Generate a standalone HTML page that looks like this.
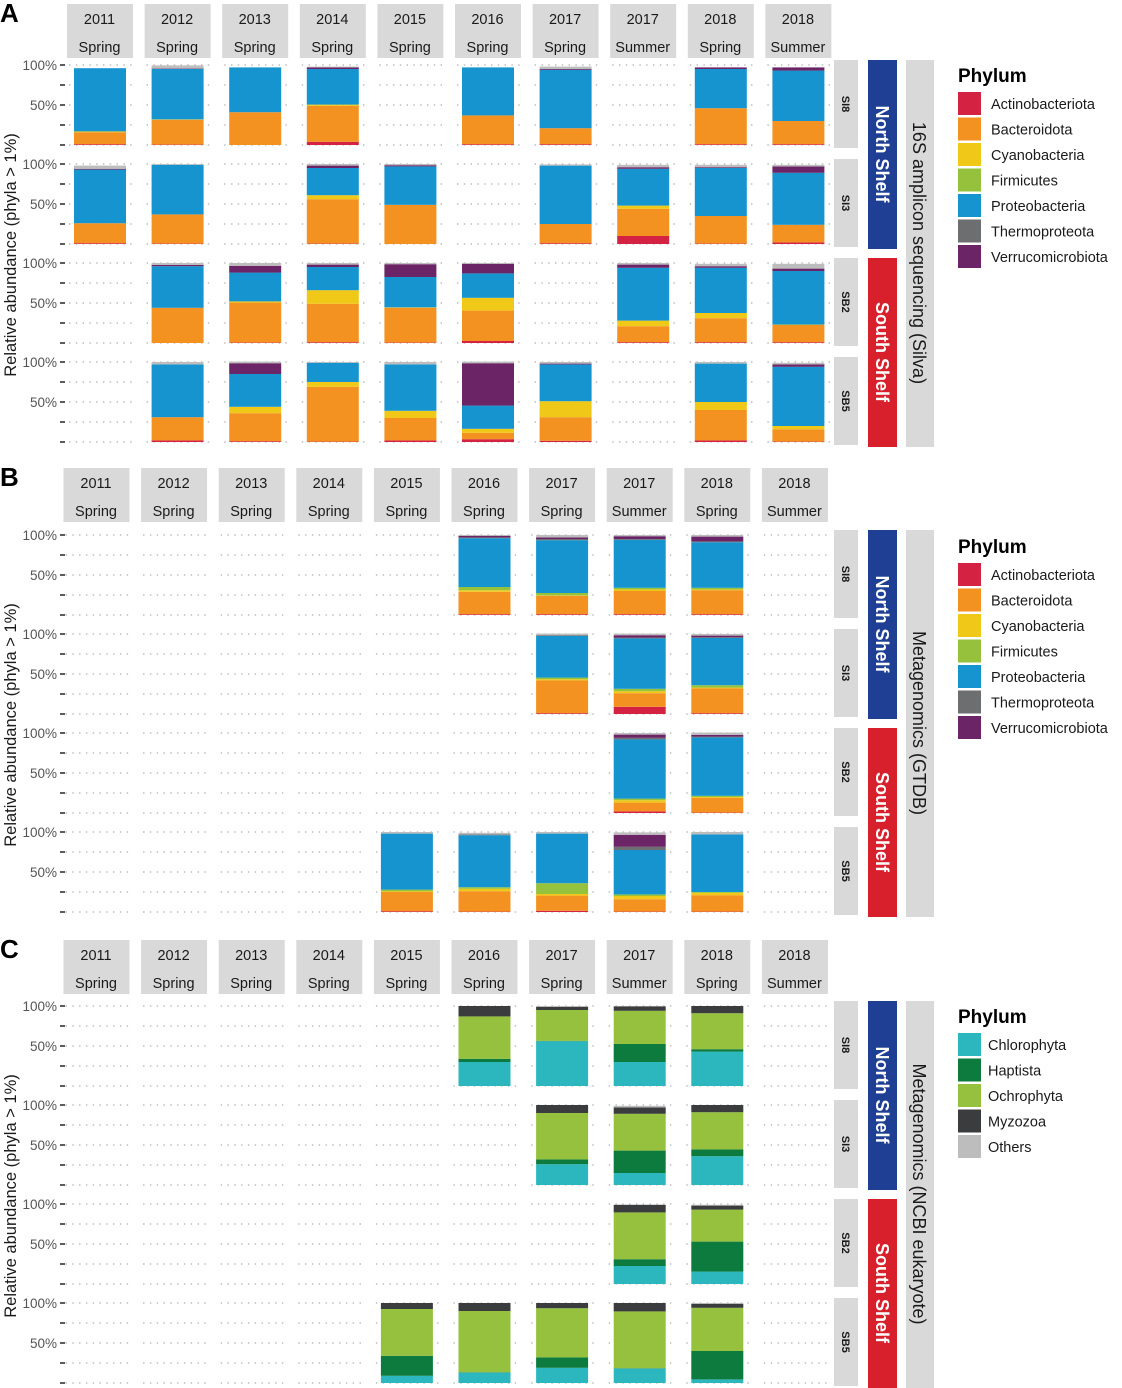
<!DOCTYPE html>
<html><head><meta charset="utf-8"><style>
html,body{margin:0;padding:0;background:#fff;}
svg{display:block;font-family:"Liberation Sans",sans-serif;}
</style></head><body>
<svg id="fig" width="1122" height="1388" viewBox="0 0 1122 1388" xmlns="http://www.w3.org/2000/svg"></svg>
<script>
const N = null;
const years = ["2011","2012","2013","2014","2015","2016","2017","2017","2018","2018"];
const seasons = ["Spring","Spring","Spring","Spring","Spring","Spring","Spring","Summer","Spring","Summer"];
const sites = ["SI8","SI3","SB2","SB5"];
const yTicks = [0,25,50,75,100];
const yTickLabels = ["","","50%","","100%"];
const bactPhyla = ["Actinobacteriota","Bacteroidota","Cyanobacteria","Firmicutes","Proteobacteria","Thermoproteota","Verrucomicrobiota"];
const bactColors = ["#d42342","#f39221","#f0c817","#95c13d","#1594cf","#6d6e70","#6b2465","#bdbdbd"];
const euPhyla = ["Chlorophyta","Haptista","Ochrophyta","Myzozoa","Others"];
const euColors = ["#2bb7bd","#0d7a3e","#95c13e","#3b3c3e","#bdbdbd"];

// Panel A (16S) — rows SI8, SI3, SB2, SB5; columns 10 samples
const A_act = [[1,.5,0,4,N,1,1,N,1,1],[1,.5,N,.5,0,N,1,10,.5,2],[N,0,.5,1,.5,2.5,N,1,1,1],[N,2,1,.5,2,3.5,1.5,N,2,.5]];
const A_bact = [[15,31,41,45,N,36,20,N,45,29],[25,36.5,N,55.5,49,N,24,34,34.5,22],[N,44,50,48,43.5,38,N,20,30,21.5],[N,29,35,68.5,28,8,29.5,N,38,15.5]];
const A_cyano = [[1,.5,0,1.5,N,0,0,N,0,0],[0,0,N,5,0,N,0,4,0,0],[N,0,1.5,17,.5,16,N,7,6.5,.5],[N,0,8,6,9,5,20,N,10,4]];
const A_firm = [[0,0,0,0,N,0,0,N,0,0],[0,0,N,0,0,N,0,0,0,0],[N,0,0,0,0,0,N,0,0,0],[N,0,0,0,0,0,0,N,0,0]];
const A_proteo = [[79,63,56,44.5,N,60,73,N,49,63],[67,62,N,34,48,N,73,46,60,65],[N,52,36,29,38,30.5,N,66,56.5,67],[N,66,41,24,58,29,46,N,48,74]];
const A_thermo = [[0,0,0,0,N,0,0,N,0,0],[0,0,N,0,0,N,0,0,0,0],[N,0,0,0,0,0,N,0,0,0],[N,0,0,0,0,0,0,N,0,0]];
const A_verru = [[0,.5,0,2,N,0,1,N,2,4],[1,0,N,3,1.5,N,0,2,1,8],[N,1.5,8.5,3,16,12,N,4,2,3],[N,0,13.5,0,0,53,1,N,0,3]];
const A_other = [[0,4,0,1,N,0,3,N,0,0],[4,1,N,2,1.5,N,1.5,3,3,2],[N,2.5,3.5,2,1.5,1,N,2,3,6],[N,3,2,1,3,2,2,N,2,2]];

// Panel B (GTDB)
const B_act = [[N,N,N,N,N,1,1,1,1,N],[N,N,N,N,N,N,1,9,1,N],[N,N,N,N,N,N,N,2,.5,N],[N,N,N,N,1,.5,1.5,.5,.5,N]];
const B_bact = [[N,N,N,N,N,28,23,29,30,N],[N,N,N,N,N,N,41,17,31,N],[N,N,N,N,N,N,N,11,18.5,N],[N,N,N,N,24,25.5,19,15.5,20.5,N]];
const B_cyano = [[N,N,N,N,N,2,.5,2,1,N],[N,N,N,N,N,N,1.5,2.5,1,N],[N,N,N,N,N,N,N,3,1,N],[N,N,N,N,1,3,2,4,3,N]];
const B_firm = [[N,N,N,N,N,4,3,2,2,N],[N,N,N,N,N,N,2,3,3,N],[N,N,N,N,N,N,N,2,1.5,N],[N,N,N,N,2,2,13.5,2,1,N]];
const B_proteo = [[N,N,N,N,N,61,66,60,57,N],[N,N,N,N,N,N,52,63,59,N],[N,N,N,N,N,N,N,74,73,N],[N,N,N,N,70,65,62,55.5,72,N]];
const B_thermo = [[N,N,N,N,N,1,1.5,1,1,N],[N,N,N,N,N,N,1,1,1,N],[N,N,N,N,N,N,N,2,1,N],[N,N,N,N,0,1,0,4,0,N]];
const B_verru = [[N,N,N,N,N,2,2,3.5,6,N],[N,N,N,N,N,N,0,3,2,N],[N,N,N,N,N,N,N,4,2,N],[N,N,N,N,0,0,0,15,0,N]];
const B_other = [[N,N,N,N,N,1,3,1.5,2,N],[N,N,N,N,N,N,2,2,2,N],[N,N,N,N,N,N,N,2,3,N],[N,N,N,N,2,2,2,3,3,N]];

// Panel C (NCBI eukaryote)
const C_chlor = [[N,N,N,N,N,30,56,30,43,N],[N,N,N,N,N,N,26,15,36,N],[N,N,N,N,N,N,N,22.5,15.5,N],[N,N,N,N,9,13,19,18,4.5,N]];
const C_hapt = [[N,N,N,N,N,4,.5,22.5,3,N],[N,N,N,N,N,N,6,28,8.5,N],[N,N,N,N,N,N,N,8.5,37.5,N],[N,N,N,N,25,.5,13,.5,35.5,N]];
const C_ochro = [[N,N,N,N,N,53,38.5,41.5,45,N],[N,N,N,N,N,N,58,46,46.5,N],[N,N,N,N,N,N,N,58.5,40,N],[N,N,N,N,58.5,76.5,61.5,71,54,N]];
const C_myzo = [[N,N,N,N,N,13,4,5.5,9,N],[N,N,N,N,N,N,10,8,9,N],[N,N,N,N,N,N,N,9.5,5,N],[N,N,N,N,7.5,10,6.5,10.5,5,N]];
const C_other = [[N,N,N,N,N,0,1,.5,0,N],[N,N,N,N,N,N,0,2,0,N],[N,N,N,N,N,N,N,0,1,N],[N,N,N,N,0,0,0,0,1,N]];

const svg = document.getElementById('fig');
const NS = "http://www.w3.org/2000/svg";
function mk(tag, attrs, parent){
  const e = document.createElementNS(NS, tag);
  for (const k in attrs) e.setAttribute(k, attrs[k]);
  (parent||svg).appendChild(e);
  return e;
}
function txt(str, attrs, parent){ const t = mk('text', attrs, parent); t.textContent = str; return t; }

const COLW = 65, PITCH = 77.6, ROWP = 99, SCALE = 0.8;

function drawPanel(cfg){
  const g = mk('g', {});
  
  
  const L = txt(cfg.letter, {x:0, y:cfg.hdrY+18, 'font-size':26, 'font-weight':'bold', fill:'#000'}, g);
  
  
  const xCol = i => cfg.left + i*PITCH;
  for (let i=0;i<10;i++){
    const hg = mk('g', {}, g);
    
    
    mk('rect', {x:xCol(i), y:cfg.hdrY, width:COLW+1, height:54, fill:'#d9d9d9'}, hg);
    txt(years[i], {x:xCol(i)+COLW/2, y:cfg.hdrY+20, 'font-size':14.5, 'text-anchor':'middle', fill:'#1a1a1a'}, hg);
    txt(seasons[i], {x:xCol(i)+COLW/2, y:cfg.hdrY+48, 'font-size':14.5, 'text-anchor':'middle', fill:'#1a1a1a'}, hg);
  }
  const yOf = (r, v) => cfg.top + r*ROWP + (100 - v)*SCALE;
  for (let r=0;r<4;r++){
    yTicks.forEach((t,k)=>{
      const y = yOf(r,t);
      const tk = mk('line', {x1:60, x2:65, y1:y, y2:y, stroke:'#333', 'stroke-width':1.6}, g);
      
      
      if (yTickLabels[k]){
        const tl = txt(yTickLabels[k], {x:57, y:y+5, 'font-size':13.5, 'text-anchor':'end', fill:'#555'}, g);
        
        
      }
      for (let i=0;i<10;i++){
        mk('line', {x1:xCol(i)+2, x2:xCol(i)+COLW, y1:y, y2:y, stroke:'#bbb', 'stroke-width':1.4, 'stroke-dasharray':'1.4 5.4'}, g);
      }
    });
    for (let i=0;i<10;i++){
      if (cfg.series[0][r][i] === null) continue;
      let cum = 0;
      const bg = mk('g', {}, g);
      
      
      cfg.series.forEach((s, si)=>{
        const v = s[r][i] || 0;
        if (v <= 0) return;
        const y1 = yOf(r, cum + v), y0 = yOf(r, cum);
        const rc = mk('rect', {x:xCol(i)+7, y:y1, width:COLW-13, height:y0-y1, fill:cfg.colors[si]}, bg);
        
        
        cum += v;
      });
    }
    const sy = yOf(r,100)-5;
    const sg = mk('g', {}, g);
    
    
    mk('rect', {x:834, y:sy, width:24, height:88, fill:'#d9d9d9'}, sg);
    txt(sites[r], {x:0, y:0, 'font-size':11, 'font-weight':'bold', 'text-anchor':'middle', fill:'#1a1a1a',
      transform:`translate(842,${sy+44}) rotate(90)`}, sg);
  }
  const t0 = cfg.top - 5;
  const ns = mk('g', {}, g);
  
  
  mk('rect', {x:868, y:t0, width:29, height:189, fill:'#1e3f94'}, ns);
  txt('North Shelf', {x:0,y:0,'font-size':18,'font-weight':'bold','text-anchor':'middle',fill:'#fff',transform:`translate(876,${t0+94}) rotate(90)`}, ns);
  const ss = mk('g', {}, g);
  
  
  mk('rect', {x:868, y:t0+198, width:29, height:189, fill:'#d7202b'}, ss);
  txt('South Shelf', {x:0,y:0,'font-size':18,'font-weight':'bold','text-anchor':'middle',fill:'#fff',transform:`translate(876,${t0+292}) rotate(90)`}, ss);
  const os = mk('g', {}, g);
  
  
  mk('rect', {x:906, y:t0, width:28, height:387, fill:'#d9d9d9'}, os);
  txt(cfg.method, {x:0,y:0,'font-size':18,'text-anchor':'middle',fill:'#1a1a1a',transform:`translate(913,${t0+193}) rotate(90)`}, os);
  const yt = txt('Relative abundance (phyla > 1%)', {x:0,y:0,'font-size':16.5,'text-anchor':'middle',fill:'#1a1a1a',transform:`translate(16,${cfg.top+190}) rotate(-90)`}, g);
  
  
  const lg = mk('g', {}, g);
  
  
  txt('Phylum', {x:958, y:cfg.legY, 'font-size':19, 'font-weight':'bold', fill:'#000'}, lg);
  cfg.legLabels.forEach((lab,k)=>{
    const eg = mk('g', {}, lg);
    
    
    mk('rect', {x:958, y:cfg.legY+10+k*25.5, width:23, height:23, fill:cfg.colors[k]}, eg);
    txt(lab, {x:cfg.legTextX, y:cfg.legY+27+k*25.5, 'font-size':14.5, fill:'#1a1a1a'}, eg);
  });
}

const bactLabels = bactPhyla.concat(['Other']);
drawPanel({name:'panel-a-16s', letter:'A', hdrY:4, top:65, left:67, legY:82, legTextX:991,
  series:[A_act,A_bact,A_cyano,A_firm,A_proteo,A_thermo,A_verru,A_other], colors:bactColors, labels:bactLabels,
  legLabels:bactPhyla, method:'16S amplicon sequencing (Silva)'});
drawPanel({name:'panel-b-gtdb', letter:'B', hdrY:468, top:535, left:63.5, legY:553, legTextX:991,
  series:[B_act,B_bact,B_cyano,B_firm,B_proteo,B_thermo,B_verru,B_other], colors:bactColors, labels:bactLabels,
  legLabels:bactPhyla, method:'Metagenomics (GTDB)'});
drawPanel({name:'panel-c-eukaryote', letter:'C', hdrY:940, top:1006, left:63.5, legY:1023, legTextX:988,
  series:[C_chlor,C_hapt,C_ochro,C_myzo,C_other], colors:euColors, labels:euPhyla,
  legLabels:euPhyla, method:'Metagenomics (NCBI eukaryote)'});
</script>
</body></html>
